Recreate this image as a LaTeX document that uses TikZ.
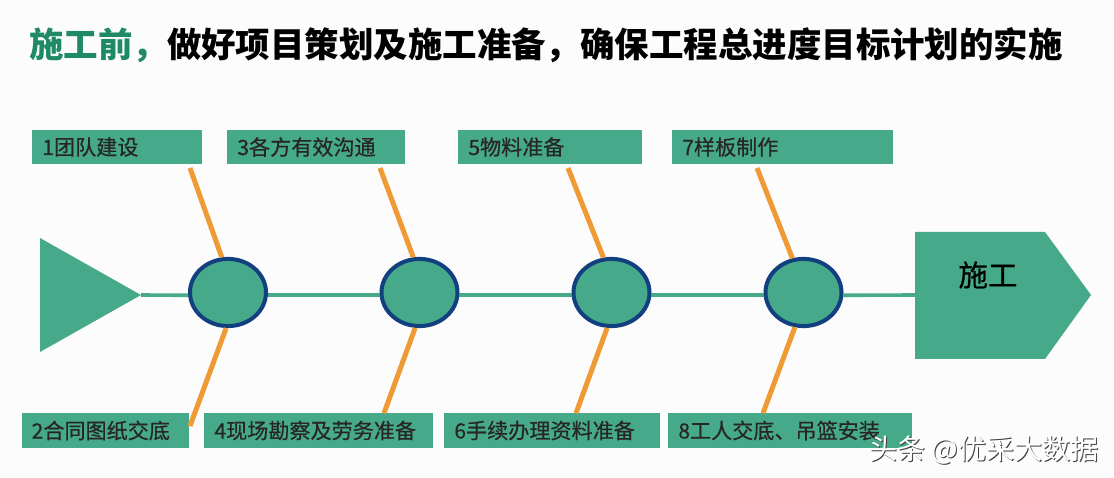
\documentclass[tikz,border=0pt]{standalone}
\usepackage{xcolor}
\usepackage{fontspec}
\setmainfont{Noto Sans CJK SC}
\newfontfamily\labelfont[FakeBold=0.5]{Noto Sans CJK SC}
\usetikzlibrary{shapes.geometric}
\definecolor{fishgreen}{HTML}{46A98A}
\definecolor{titlegreen}{HTML}{1E8A66}
\definecolor{ringblue}{HTML}{123F80}
\definecolor{boneorange}{HTML}{F09A35}
\tikzset{
  labelbox/.style={fill=fishgreen, minimum height=.85cm, inner ysep=0pt, inner xsep=.26cm, align=left, font=\labelfont\fontsize{15}{15}\selectfont, text=black!85},
  joint/.style={ellipse, draw=ringblue, line width=.1cm, fill=fishgreen, minimum width=1.9cm, minimum height=1.68cm, inner sep=0pt},
  spine/.style={draw=fishgreen, line width=.09cm},
  bone/.style={draw=boneorange, line width=.125cm},
  mark text/.style={font=\fontsize{20}{20}\selectfont}
}

\begin{document}
\begin{tikzpicture}[x=.025cm, y=-.025cm]
  \useasboundingbox[fill=white!99!black] (0,0) rectangle (1114,478);

  \node (title) at (546,45) {\fontsize{24.5}{24.5}\selectfont\bfseries\textcolor{titlegreen}{施工前，}做好项目策划及施工准备，确保工程总进度目标计划的实施};

  \coordinate (head) at (141,295);
  \coordinate (arrow) at (915,295);
  \fill[fishgreen] (40,238) -- (head) -- (40,352) -- cycle;
  \fill[fishgreen] (915,232) -- (1045,232) -- (1091,295) -- (1045,359) -- (915,359) -- cycle;
  \node[font=\labelfont] (goal) at (988,275) {\fontsize{21}{21}\selectfont 施工};

  \node[joint] (j1) at (228,292.5) {};
  \node[joint] (j2) at (419.5,292.5) {};
  \node[joint] (j3) at (611.5,292.5) {};
  \node[joint] (j4) at (803.5,292.5) {};

  \draw[spine] (head) -- (j1.184);
  \draw[spine] (j1.-4) -- (j2.184);
  \draw[spine] (j2.-4) -- (j3.184);
  \draw[spine] (j3.-4) -- (j4.184);
  \draw[spine] (j4.-4) -- (arrow);

  \node[labelbox, text width=3.73cm] (b1) at (117,147) {1团队建设};
  \node[labelbox, text width=3.93cm] (b3) at (316,147) {3各方有效沟通};
  \node[labelbox, text width=4.08cm] (b5) at (550,147) {5物料准备};
  \node[labelbox, text width=5.01cm] (b7) at (782.5,147) {7样板制作};
  \node[labelbox, inner xsep=.24cm, text width=3.69cm] (b2) at (105.5,430.5) {2合同图纸交底};
  \node[labelbox, text width=5.2cm] (b4) at (318.5,430.5) {4现场勘察及劳务准备};
  \node[labelbox, text width=4.88cm] (b6) at (552,430.5) {6手续办理资料准备};
  \node[labelbox, text width=5.58cm] (b8) at (790,430.5) {8工人交底、吊篮安装};

  \coordinate (t1) at (190,168);
  \coordinate (t2) at (380,168);
  \coordinate (t3) at (568,168);
  \coordinate (t4) at (757,168);
  \coordinate (u1) at (190,426);
  \draw[bone] (t1) -- (j1.100);
  \draw[bone] (t2) -- (j2.100);
  \draw[bone] (t3) -- (j3.103.5);
  \draw[bone] (t4) -- (j4.108);
  \draw[bone] (j1.267) -- (u1);
  \draw[bone] (j2.263) -- (b4.north -| 384,0);
  \draw[bone] (j3.263) -- (b6.north -| 576,0);
  \draw[bone] (j4.256.5) -- (b8.north -| 763,0);

  \node[mark text, text=black!75] (shade) at (985,451) {头条 @优采大数据};
  \node[mark text, text=white] (mark) at (984,450) {头条 @优采大数据};
\end{tikzpicture}
\end{document}
